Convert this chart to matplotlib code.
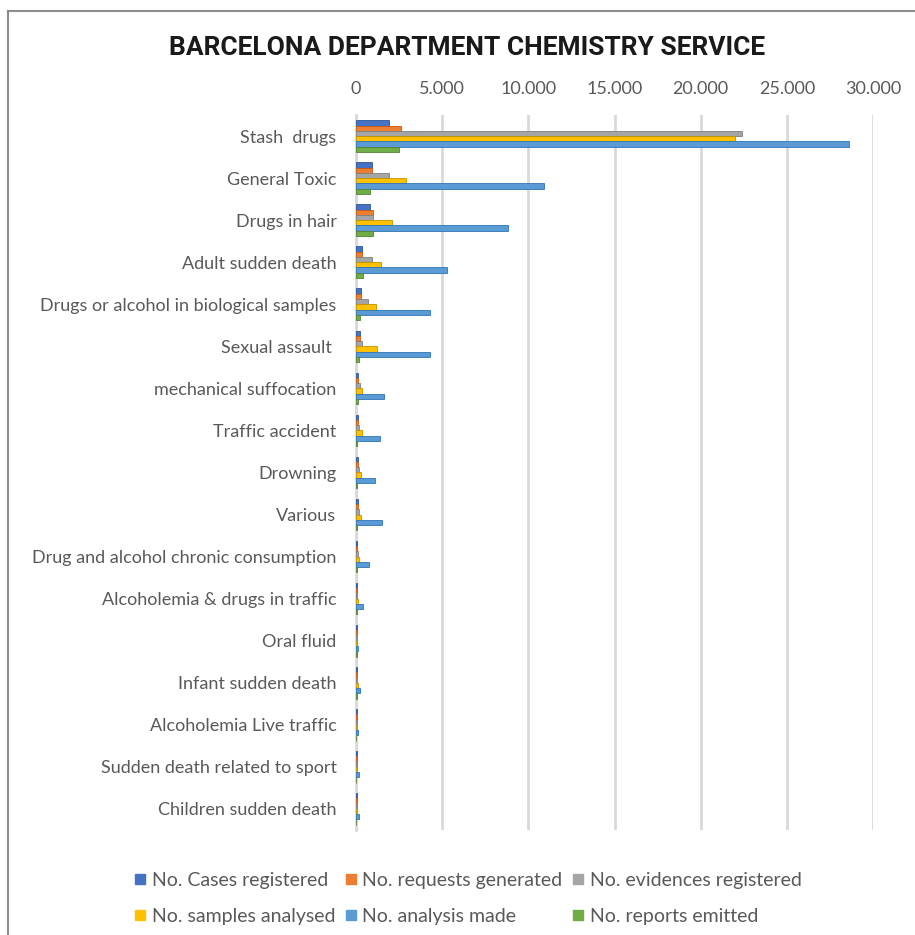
import matplotlib.pyplot as plt
import matplotlib.ticker as mticker
from matplotlib.lines import Line2D
import numpy as np

plt.rcParams['font.family'] = ['Lato', 'DejaVu Sans']

categories = ['Stash  drugs', 'General Toxic', 'Drugs in hair', 'Adult sudden death',
              'Drugs or alcohol in biological samples', 'Sexual assault ',
              'mechanical suffocation', 'Traffic accident', 'Drowning', 'Various',
              'Drug and alcohol chronic consumption', 'Alcoholemia & drugs in traffic',
              'Oral fluid', 'Infant sudden death', 'Alcoholemia Live traffic',
              'Sudden death related to sport', 'Children sudden death']

cases = [1900, 900, 800, 350, 300, 250, 120, 100, 100, 100, 80, 50, 40, 50, 30, 30, 30]
requests = [2600, 900, 1000, 350, 300, 250, 120, 100, 100, 100, 80, 50, 40, 50, 30, 30, 30]
evidences = [22400, 1900, 1000, 900, 700, 350, 250, 200, 150, 150, 100, 60, 50, 60, 40, 40, 40]
samples = [22000, 2900, 2100, 1450, 1150, 1200, 350, 350, 300, 300, 200, 100, 80, 100, 50, 60, 60]
analysis = [28600, 10900, 8800, 5300, 4300, 4300, 1600, 1400, 1100, 1500, 750, 400, 120, 250, 100, 150, 150]
reports = [2500, 800, 1000, 400, 250, 150, 100, 80, 80, 80, 60, 40, 30, 40, 20, 20, 20]

series = [cases, requests, evidences, samples, analysis, reports]
names = ['No. Cases registered', 'No. requests generated', 'No. evidences registered',
         'No. samples analysed', 'No. analysis made', 'No. reports emitted']
colors = ['#4472C4', '#ED7D31', '#A5A5A5', '#FFC000', '#5B9BD5', '#70AD47']
edges = ['#2F5597', '#C55A11', '#7F7F7F', '#BF9000', '#2E75B6', '#548235']

fig = plt.figure(figsize=(9.15, 9.35), dpi=100)
ax = fig.add_axes([356 / 915, 1 - 830 / 935, (873 - 356) / 915, (830 - 115) / 935])

y = np.arange(len(categories))
h = 0.125
for i, (vals, c, ec) in enumerate(zip(series, colors, edges)):
    ax.barh(y - 2.5 * h + i * h, vals, height=h, color=c, edgecolor=ec,
            linewidth=0.6, zorder=3)

ax.set_xlim(0, 30000)
ax.set_ylim(len(categories) - 0.5, -0.5)
ax.xaxis.tick_top()
ax.set_xticks(range(0, 30001, 5000))
ax.xaxis.set_major_formatter(mticker.FuncFormatter(lambda v, p: f'{int(v):,}'.replace(',', '.')))
ax.set_yticks(y)
ax.set_yticklabels(categories)
ax.tick_params(axis='both', length=0, labelsize=13, colors='#595959')
ax.tick_params(axis='x', pad=13)
ax.tick_params(axis='y', pad=14)
ax.grid(axis='x', color='#D9D9D9', linewidth=2, zorder=0)
for s in ['top', 'right', 'bottom']:
    ax.spines[s].set_visible(False)
ax.spines['left'].set_color('#D9D9D9')
ax.spines['left'].set_linewidth(2)

fig.text(467 / 915, 1 - 48 / 935, 'BARCELONA DEPARTMENT CHEMISTRY SERVICE',
         ha='center', va='center', fontsize=19, fontweight='bold',
         family=['Roboto', 'DejaVu Sans'], color='#1a1a1a')

# legend in two rows, filled row by row
order = [0, 3, 1, 4, 2, 5]
handles = [Line2D([], [], marker='s', linestyle='', markersize=7, color=colors[k]) for k in order]
fig.legend(handles, [names[k] for k in order], ncol=3, loc='center',
           bbox_to_anchor=(468 / 915, 1 - 898.5 / 935),
           frameon=False, fontsize=14, labelcolor='#595959', handlelength=0.6,
           handletextpad=0.3, columnspacing=0.5, labelspacing=0.95)

# outer frame
fig.add_artist(Line2D([8 / 915, 1], [1 - 11 / 935] * 2, color='#8c8c8c', linewidth=1.5))
fig.add_artist(Line2D([8 / 915] * 2, [0, 1 - 11 / 935], color='#8c8c8c', linewidth=1.5))

fig.savefig('out.png', dpi=100)
